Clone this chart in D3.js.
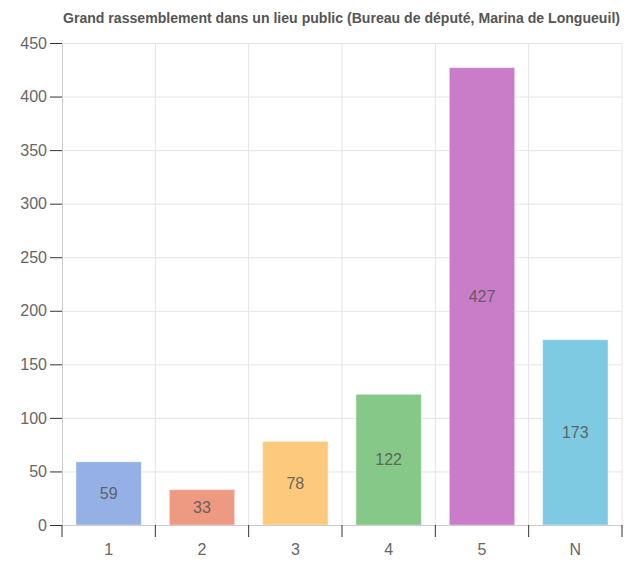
<!DOCTYPE html>
<meta charset="utf-8">
<style>
body { margin: 0; background: #fff; }
.title { font-family: "Liberation Sans", Arial, sans-serif; font-size: 14px; font-weight: bold; fill: #555; }
.axis text { font-family: "Liberation Sans", Arial, sans-serif; font-size: 16px; fill: #666; }
.axis path { stroke: #ccc; }
.axis line { stroke: #333; }
.grid line { stroke: #e4e4e4; }
.grid path { display: none; }
.label { font-family: "Liberation Sans", Arial, sans-serif; font-size: 16px; fill: #555; opacity: 0.85; }
</style>
<body>
<svg id="svg" width="633" height="561"></svg>
<script src="https://d3js.org/d3.v7.min.js"></script>
<script>

var categories = ["1", "2", "3", "4", "5", "N"];
var values = [59, 33, 78, 122, 427, 173];
var colors = ["#94b0e5", "#ee9a83", "#fdc97c", "#86c887", "#c97cc8", "#7ecae2"];
var yTicks = [0, 50, 100, 150, 200, 250, 300, 350, 400, 450];
var title = "Grand rassemblement dans un lieu public (Bureau de député, Marina de Longueuil)";

var svg = d3.select("svg"),
    margin = {top: 43, right: 11, bottom: 36, left: 62},
    width = svg.attr("width") - margin.left - margin.right,
    height = svg.attr("height") - margin.top - margin.bottom,
    g = svg.append("g").attr("transform", "translate(" + margin.left + "," + margin.top + ")");

var x = d3.scaleBand().domain(categories).range([0, width]).padding(0);
var y = d3.scaleLinear().domain([0, 450]).range([height, 0]);

// grid
g.append("g")
    .attr("class", "grid")
    .call(d3.axisLeft(y).tickValues(yTicks).tickSize(-width).tickFormat(""));

g.append("g")
    .attr("class", "grid")
    .selectAll("line")
    .data(categories)
  .enter().append("line")
    .attr("x1", function(d) { return x(d) + x.step(); })
    .attr("x2", function(d) { return x(d) + x.step(); })
    .attr("y1", 0)
    .attr("y2", height);

// bars
var inset = x.bandwidth() * 0.15;
g.selectAll(".bar")
    .data(values)
  .enter().append("rect")
    .attr("class", "bar")
    .attr("x", function(d, i) { return x(categories[i]) + inset; })
    .attr("width", x.bandwidth() - 2 * inset)
    .attr("y", function(d) { return y(d); })
    .attr("height", function(d) { return height - y(d); })
    .style("fill", function(d, i) { return colors[i]; })
    .style("stroke", "#fff")
    .style("stroke-opacity", 0.4)
    .style("stroke-width", 1);

g.selectAll(".label")
    .data(values)
  .enter().append("text")
    .attr("class", "label")
    .attr("text-anchor", "middle")
    .attr("dy", "0.35em")
    .attr("x", function(d, i) { return x(categories[i]) + x.bandwidth() / 2; })
    .attr("y", function(d) { return (y(d) + height) / 2; })
    .text(function(d) { return d; });

// axes
g.append("g")
    .attr("class", "axis axis--y")
    .call(d3.axisLeft(y).tickValues(yTicks).tickSize(12).tickSizeOuter(0).tickPadding(3));

var xAxis = g.append("g")
    .attr("class", "axis axis--x")
    .attr("transform", "translate(0," + height + ")")
    .call(d3.axisBottom(x).tickSize(0).tickPadding(19));

xAxis.selectAll(".bound")
    .data([""].concat(categories))
  .enter().append("line")
    .attr("class", "bound")
    .attr("x1", function(d) { return d === "" ? 0 : x(d) + x.step(); })
    .attr("x2", function(d) { return d === "" ? 0 : x(d) + x.step(); })
    .attr("y1", 0)
    .attr("y2", 12);

svg.append("text")
    .attr("class", "title")
    .attr("x", margin.left + 1)
    .attr("y", 23)
    .attr("textLength", 557)
    .attr("lengthAdjust", "spacingAndGlyphs")
    .text(title);

</script>
</body>
